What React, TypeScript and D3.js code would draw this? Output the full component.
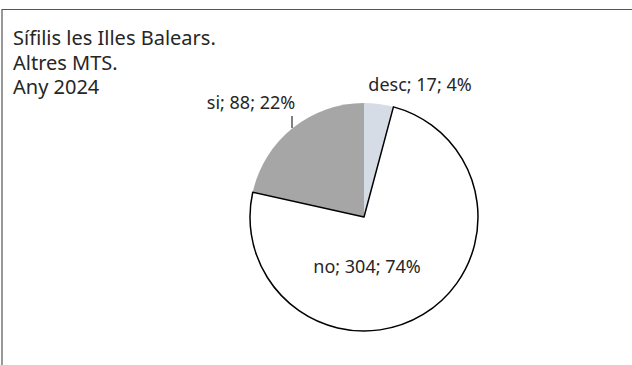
import React from "react";
import * as d3 from "d3";

const categories = ["desc", "no", "si"];
const values = [17, 304, 88];
const percents = ["4%", "74%", "22%"];
const colors = ["#d5dce6", "#ffffff", "#a6a6a6"];
const titleLines = ["Sífilis les Illes Balears.", "Altres MTS.", "Any 2024"];

const W = 632;
const H = 365;

export default function App() {
  const cx = 364;
  const cy = 217;
  const r = 114;
  const pie = d3.pie<number>().sort(null).value((d) => d)(values);
  const arc = d3.arc<d3.PieArcDatum<number>>().innerRadius(0).outerRadius(r);
  const order = [0, 2, 1];
  const font = "'Noto Sans', 'Open Sans', sans-serif";
  const labelPos: [number, number, string][] = [
    [420, 91, "middle"],
    [367, 273, "middle"],
    [251, 109, "middle"],
  ];
  return (
    <svg
      width={W}
      height={H}
      style={{ position: "absolute", left: 0, top: 0 }}
    >
      <rect x={0} y={0} width={W} height={H} fill="#fff" />
      <path d={`M2,${H} L2,9.5 L${W},9.5`} fill="none" stroke="#555" strokeWidth={1.2} />
      {titleLines.map((t, i) => (
        <text key={i} x={13} y={45 + i * 24.5} fontFamily={font} fontSize={20} fill="#262626">
          {t}
        </text>
      ))}
      <g transform={`translate(${cx},${cy})`}>
        {order.map((i) => (
          <path
            key={i}
            d={arc(pie[i]) || ""}
            fill={colors[i]}
            stroke={categories[i] === "no" ? "#000" : "none"}
            strokeWidth={1.5}
            strokeLinejoin="round"
          />
        ))}
      </g>
      <line x1={292} y1={116} x2={292} y2={128} stroke="#000" strokeWidth={1} />
      {categories.map((c, i) => (
        <text
          key={c}
          x={labelPos[i][0]}
          y={labelPos[i][1]}
          textAnchor={labelPos[i][2] as any}
          fontFamily={font}
          fontSize={18}
          fill="#262626"
        >
          {`${c}; ${values[i]}; ${percents[i]}`}
        </text>
      ))}
    </svg>
  );
}
